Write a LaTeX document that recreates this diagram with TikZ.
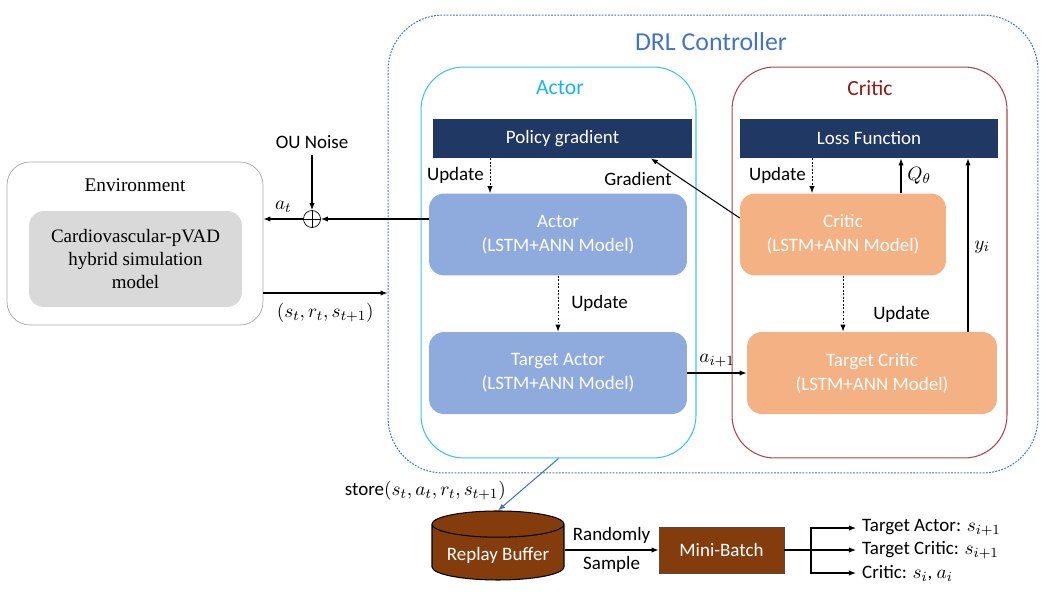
\documentclass[tikz,border=0pt]{standalone}
\usepackage{fontspec}
\setmainfont{Carlito}
\newfontfamily\serifenv{Liberation Serif}
\usetikzlibrary{shapes.geometric,arrows.meta,calc}

\definecolor{drlblue}{HTML}{4472C4}
\definecolor{actorline}{HTML}{3FC1F0}
\definecolor{actortext}{HTML}{1EB1EE}
\definecolor{criticline}{HTML}{A8464B}
\definecolor{critictext}{HTML}{8E1B1F}
\definecolor{navy}{HTML}{203864}
\definecolor{actorfill}{HTML}{8FAADC}
\definecolor{criticfill}{HTML}{F4B183}
\definecolor{bufferbrown}{HTML}{843C0C}
\definecolor{envline}{HTML}{A6A6A6}
\definecolor{envfill}{HTML}{D9D9D9}

\tikzset{
  arr/.style={-{Latex[length=4pt,width=3pt]}, line width=0.6pt},
  upd/.style={-{Latex[length=4pt,width=3pt]}, line width=0.5pt, dash pattern=on 1pt off 1pt},
  bar/.style={fill=navy, text=white, minimum height=0.78cm, inner sep=0pt},
  net/.style={rounded corners=0.3cm, text=white, align=center, minimum height=1.64cm, inner sep=0pt},
  half/.style={rounded corners=0.85cm, minimum width=5.5cm, minimum height=7.82cm, line width=0.6pt},
  title/.style={font=\fontsize{12.3}{14}\selectfont},
}

\begin{document}
\begin{tikzpicture}[x=0.02cm, y=-0.02cm, font=\fontsize{10.8}{13.6}\selectfont]
        \useasboundingbox (0,0) rectangle (1048,599);
        % controller with actor and critic halves
        \node[draw=drlblue, dash pattern=on 1pt off 0.8pt, line width=0.6pt, rounded corners=1.1cm, minimum width=13cm, minimum height=9.16cm] (drl) at (713,244) {};
        \node[text=drlblue, font=\fontsize{14.7}{17}\selectfont] (drltitle) at (711,42) {DRL Controller};
        \node[draw=actorline, half] (actorbox) at (558.5,262.5) {};
        \node[text=actortext, title] (actortitle) at (560,88) {Actor};
        \node[draw=criticline, half] (criticbox) at (869.5,262.5) {};
        \node[text=critictext, title] (critictitle) at (870,88) {Critic};

        \node[bar, minimum width=5.18cm] (policy) at (562.5,138.5) {Policy gradient};
        \node[bar, minimum width=5.16cm] (loss) at (869,138.5) {Loss Function};
        \node[net, fill=actorfill, minimum width=5.16cm] (actor) at (558,234.5) {Actor\\(LSTM+ANN Model)};
        \node[net, fill=criticfill, minimum width=4.12cm] (critic) at (843,234.5) {Critic\\(LSTM+ANN Model)};
        \node[net, fill=actorfill, minimum width=5.16cm] (tactor) at (558,373) {Target Actor\\(LSTM+ANN Model)};
        \node[net, fill=criticfill, minimum width=5cm] (tcritic) at (872,373) {Target Critic\\(LSTM+ANN Model)};

        % environment
        \node[draw=envline, rounded corners=0.46cm, minimum width=5.12cm, minimum height=3.26cm] (env) at (135,243.5) {};
        \node[font=\serifenv\fontsize{11}{13}\selectfont] (envtitle) at (135,185) {Environment};
        \node[fill=envfill, rounded corners=0.3cm, minimum width=4.26cm, minimum height=1.92cm, align=center, font=\serifenv\fontsize{10.8}{13}\selectfont] (plant) at (135.5,259) {Cardiovascular-pVAD\\hybrid simulation\\model};

        \node (ou) at (312,142) {OU Noise};
        \node[draw, circle, minimum size=0.34cm, inner sep=0pt] (noise) at (312,219) {};
        \draw (noise.north) -- (noise.south) (noise.west) -- (noise.east);
        \draw[arr] (ou) -- (noise);
        \draw[arr] (actor.west |- noise) -- (noise);
        \draw[arr] (noise) -- (env.east |- noise) node[midway, above] {$a_t$};
        \coordinate (envout) at (263,293);
        \draw[arr] (envout) -- (drl.west |- envout) node[midway, below=2pt] {$(s_t,r_t,s_{t+1})$};

        % updates and gradients
        \draw[upd] (policy.south -| 490,0) -- (actor.north -| 490,0) node[midway, left] {Update};
        \draw[arr] ($(critic.north west)!0.3!(critic.south west)$) -- ($(policy.south west)!0.84!(policy.south east)$);
        \node (gradlbl) at (638,179) {Gradient};
        \draw[upd] (loss.south -| 812,0) -- (critic.north -| 812,0) node[midway, left] {Update};
        \draw[arr] (critic.north -| 901,0) -- (loss.south -| 901,0) node[midway, right] {$Q_\theta$};
        \draw[arr] (tcritic.north -| 968,0) -- (loss.south -| 968,0) node[pos=0.49, right] {$y_i$};
        \draw[upd] (actor) -- (tactor) node[midway, right=0.14cm] {Update};
        \draw[upd] (critic) -- (tcritic.north -| critic) node[pos=0.7, right=0.48cm] {Update};
        \draw[arr] (tactor) -- (tcritic) node[midway, above] {$a_{i+1}$};

        % replay buffer
        \node[cylinder, shape border rotate=90, aspect=0.23, draw=black, line width=0.6pt, fill=bufferbrown, text=white, minimum width=2.64cm, minimum height=1.38cm] (buffer) at (498,555) {Replay Buffer};
        \node[draw=black!70, fill=bufferbrown, text=white, minimum width=2.5cm, minimum height=0.92cm] (batch) at (721.5,550) {Mini-Batch};
        \draw[arr, drlblue] (actorbox.south) -- (buffer.north);
        \node[anchor=east] (storelbl) at (512,491) {store$(s_t,a_t,r_t,s_{t+1})$};
        \draw[arr] (buffer.east |- batch) -- (batch) node[midway, above] {Randomly} node[midway, below] {Sample};
        \coordinate (split) at (811,550);
        \draw[line width=0.6pt] (batch) -- (split);
        \foreach \yy/\txt [count=\k] in {528/{Target Actor: $s_{i+1}$}, 550/{Target Critic: $s_{i+1}$}, 573/{Critic: $s_i$, $a_i$}} {
            \node[anchor=west] (feed\k) at (856,\yy) {\txt};
            \draw[arr] (split) |- (feed\k.west);
        }
    \end{tikzpicture}
\end{document}
